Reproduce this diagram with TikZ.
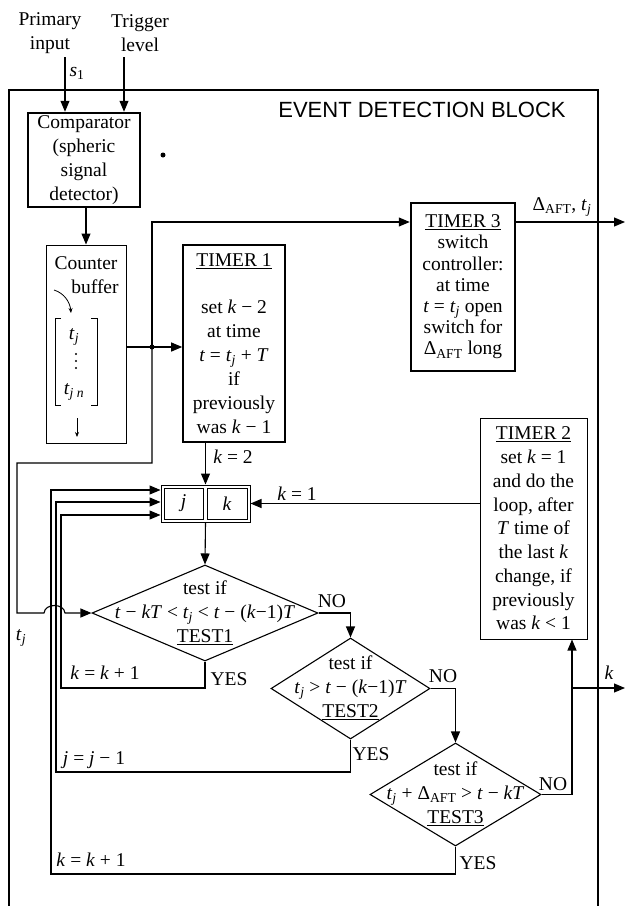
\documentclass[tikz,border=0pt]{standalone}
\usepackage{fontspec}
\setmainfont{Liberation Serif}
\setsansfont{Liberation Sans}
\usetikzlibrary{arrows.meta,shapes.geometric,calc}
\newcommand{\mi}[1]{\textit{#1}}
\newcommand{\sbs}[1]{\textsubscript{#1}}
\begin{document}
\begin{tikzpicture}[x=1pt,y=-1pt,
  every node/.style={font=\fontsize{19.5}{24}\selectfont},
  arr/.style={-{Triangle[length=11pt,width=9pt]}, line width=1.1pt},
  conn/.style={line width=1.1pt},
  small arr/.style={-{Stealth[length=5pt,width=4pt]}, line width=0.8pt},
  blk/.style={draw, align=center, inner sep=0pt},
  dia/.style={draw, diamond, inner sep=0pt, line width=1.1pt},
  lbl/.style={inner sep=0pt, align=center}]

\useasboundingbox (0,0) rectangle (633,906);
\fill[white] (0,0) rectangle (633,906);

% outer block
\draw[line width=2pt] (9,912) -- (9,90) -- (598,90) -- (598,912);
\node[lbl, font=\sffamily\fontsize{22}{26}\selectfont] (ttl) at (422,110) {EVENT DETECTION BLOCK};

% inputs
\node[lbl] (pil) at (50,33) {Primary\\input};
\node[lbl] (trl) at (140,33) {Trigger\\level};
\node[lbl] (s1) at (77,73) {\mi{s}\sbs{1}};

% comparator
\node[blk, line width=2.5pt, minimum width=112, minimum height=94] (cmp) at (84,160) {Comparator\\(spheric\\signal\\detector)};
\coordinate (pin) at (65,57);
\coordinate (trg) at (124,57);
\draw[arr] (pin) -- (pin |- cmp.north);
\draw[arr] (trg) -- (trg |- cmp.north);
\fill (163,155) circle (2.5);

% counter buffer
\node[blk, line width=1pt, minimum width=80, minimum height=198] (cb) at (86,344) {};
\node[lbl] (cbt1) at (86,263) {Counter};
\node[lbl] (cbt2) at (95,287) {buffer};
\coordinate (ca1) at (54,290);
\coordinate (ca2) at (71,313);
\draw[small arr] (ca1) .. controls (64,293) and (70,302) .. (ca2);
\draw[line width=0.8pt] (61,318) -- (55,318) -- (55,405) -- (61,405);
\draw[line width=0.8pt] (91,318) -- (97,318) -- (97,405) -- (91,405);
\node[lbl] (tj1) at (74,337) {\mi{t}\sbs{\mi{j}}};
\fill (76,354) circle (1.2);
\fill (76,361) circle (1.2);
\fill (76,368) circle (1.2);
\node[lbl] (tjn) at (74,392) {\mi{t}\sbs{\mi{j n}}};
\coordinate (da1) at (77,418);
\coordinate (da2) at (77,437);
\draw[small arr] (da1) -- (da2);
\draw[arr] (cmp.south -| cb.north) -- (cb.north);

% timer 1
\node[blk, line width=1.6pt, minimum width=102, minimum height=197] (t1) at (234,343.5)
  {\underline{TIMER 1}\\[23pt]set \mi{k} − 2\\at time\\\mi{t} = \mi{t}\sbs{\mi{j}} + \mi{T}\\if\\previously\\was \mi{k} − 1};

% timer 3
\node[blk, line width=2.5pt, minimum width=104, minimum height=168, font=\fontsize{19.5}{21.2}\selectfont] (t3) at (463,287)
  {\underline{TIMER 3}\\switch\\controller:\\at time\\\mi{t} = \mi{t}\sbs{\mi{j}} open\\switch for\\Δ\sbs{AFT} long};

% timer 2
\node[blk, line width=1pt, minimum width=107, minimum height=221, font=\fontsize{19.5}{23.75}\selectfont] (t2) at (533.5,528.5)
  {\underline{TIMER 2}\\set \mi{k} = 1\\and do the\\loop, after\\\mi{T} time of\\the last \mi{k}\\change, if\\previously\\was \mi{k} < 1};

% j k register
\node[draw, line width=1pt, minimum width=89, minimum height=37, inner sep=0pt] (jk) at (205.5,503.5) {};
\node[draw, line width=1pt, minimum width=39, minimum height=31, inner sep=0pt] (jc) at (183.5,503.5) {\mi{j}};
\node[draw, line width=1pt, minimum width=40, minimum height=31, inner sep=0pt] (kc) at (227,503.5) {\mi{k}};

% diamonds
\node[dia, minimum width=226, minimum height=96] (d1) at (205,613) {};
\node[lbl] (d1t) at (205,613) {test if\\\mi{t} − \mi{kT} < \mi{t}\sbs{\mi{j}} < \mi{t} − (\mi{k}−1)\mi{T}\\\underline{TEST1}};
\node[dia, minimum width=159, minimum height=101] (d2) at (350.5,688.5) {};
\node[lbl] (d2t) at (350.5,688) {test if\\\mi{t}\sbs{\mi{j}} > \mi{t} − (\mi{k}−1)\mi{T}\\\underline{TEST2}};
\node[dia, minimum width=171, minimum height=103] (d3) at (455.5,794.5) {};
\node[lbl] (d3t) at (455.5,794) {test if\\\mi{t}\sbs{\mi{j}} + Δ\sbs{AFT} > \mi{t} − \mi{kT}\\\underline{TEST3}};

% connectors from counter buffer
\coordinate (jn) at (152,347);
\draw[conn] (cb.east |- jn) -- (jn);
\draw[arr] (jn) -- (jn -| t1.west);
\fill (jn) circle (2.5);
\coordinate (r3) at (152,222);
\draw[arr] (jn) -- (r3) -- (r3 -| t3.west);
\coordinate (o3) at (625,222);
\draw[arr] (r3 -| t3.east) -- (o3);
\node[lbl] (o3l) at (562,207) {Δ\sbs{AFT}, \mi{t}\sbs{\mi{j}}};

\coordinate (q1) at (152,463);
\coordinate (q2) at (17,463);
\coordinate (q3) at (17,613);
\draw[arr] (jn) -- (q1) -- (q2) -- (q3) -- (44,613) .. controls (45,603) and (64,603) .. (65,613) -- (d1.west);
\node[lbl] (tjl) at (21,638) {\mi{t}\sbs{\mi{j}}};

% timer1 -> jk -> test1
\draw[arr] (jk.north |- t1.south) -- (jk.north);
\node[lbl] (k2) at (233,457) {\mi{k} = 2};
\draw[arr] (jk.south) -- (d1.north);

% timer2 -> jk
\draw[arr] (t2.west |- jk.east) -- (jk.east);
\node[lbl, anchor=south] (k1) at (297,501) {\mi{k} = 1};

% NO branches
\draw[arr] (d1.east) -| (d2.north);
\node[lbl] (no1) at (332,601) {NO};
\draw[arr] (d2.east) -| (d3.north);
\node[lbl] (no2) at (443,676) {NO};
\coordinate (nx) at (572,688);
\draw[arr] (d3.east) -| (nx) -- (nx |- t2.south);
\node[lbl] (no3) at (553,784) {NO};
\coordinate (ko) at (625,688);
\draw[arr] (nx) -- (ko);
\node[lbl] (kl) at (609,673) {\mi{k}};

% YES loops
\coordinate (y1) at (61,688);
\coordinate (e1) at (61,515);
\draw[arr] (d1.south) |- (y1) -- (e1) -- (e1 -| jk.west);
\node[lbl] (kk1) at (105,673) {\mi{k} = \mi{k} + 1};
\node[lbl] (yes1) at (229,679) {YES};

\coordinate (y2) at (56,772);
\coordinate (e2) at (56,502);
\draw[arr] (d2.south) |- (y2) -- (e2) -- (e2 -| jk.west);
\node[lbl] (jj) at (94,760) {\mi{j} = \mi{j} − 1};
\node[lbl] (yes2) at (371,754) {YES};

\coordinate (y3) at (51,874);
\coordinate (e3) at (51,490);
\draw[arr] (d3.south) |- (y3) -- (e3) -- (e3 -| jk.west);
\node[lbl] (kk3) at (91,860) {\mi{k} = \mi{k} + 1};
\node[lbl] (yes3) at (478,863) {YES};

\end{tikzpicture}
\end{document}
